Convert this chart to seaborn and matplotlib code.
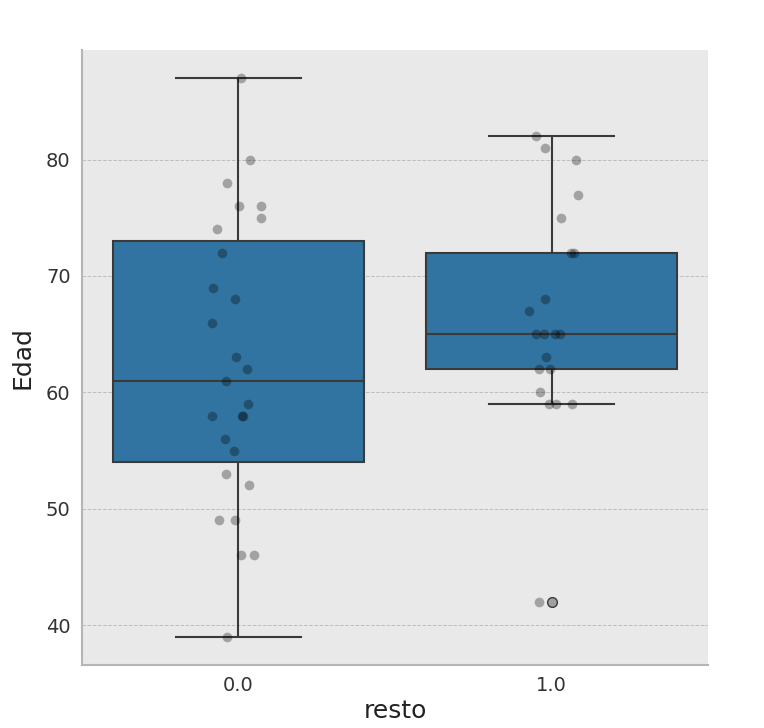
import numpy as np
import pandas as pd
import seaborn as sns
import matplotlib.pyplot as plt

# Edad values, grouped by "resto"
edad_resto0 = [87, 80, 78, 76, 76, 75, 74, 72, 69, 68, 66, 63, 62, 61, 59,
               58, 58, 58, 56, 55, 53, 52, 49, 49, 46, 46, 39]
edad_resto1 = [82, 81, 80, 77, 75, 72, 72, 68, 67, 65, 65, 65, 65, 63, 62,
               62, 60, 59, 59, 59, 42]

df = pd.DataFrame({
    "resto": [0.0] * len(edad_resto0) + [1.0] * len(edad_resto1),
    "Edad": edad_resto0 + edad_resto1,
})

np.random.seed(3)

fig, ax = plt.subplots(figsize=(7.64, 7.28), dpi=100)
fig.subplots_adjust(left=0.107, right=0.927, top=0.931, bottom=0.087)
ax.set_facecolor("#e9e9e9")

sns.boxplot(data=df, x="resto", y="Edad", ax=ax, color="#1f77b4",
            linecolor="#3a3a3a", linewidth=1.5, width=0.8,
            flierprops={"marker": "o", "markersize": 7, "markeredgecolor": "#3a3a3a",
                        "markerfacecolor": "#a0a0a0"})
sns.stripplot(data=df, x="resto", y="Edad", ax=ax, color="black",
              alpha=0.3, size=7, jitter=0.09)

ax.grid(axis="y", linestyle="--", color="#bdbdbd", linewidth=0.7)
ax.grid(axis="x", visible=False)
ax.set_axisbelow(True)
for side in ["top", "right"]:
    ax.spines[side].set_visible(False)
for side in ["left", "bottom"]:
    ax.spines[side].set_color("#b5b5b5")
    ax.spines[side].set_linewidth(1.5)

ax.tick_params(axis="both", length=0, labelsize=14, colors="#333333", pad=8)
ax.set_xlabel("resto", fontsize=18, color="#222222", labelpad=3)
ax.set_ylabel("Edad", fontsize=18, color="#222222", labelpad=8)

fig.savefig("out.png", dpi=100)
